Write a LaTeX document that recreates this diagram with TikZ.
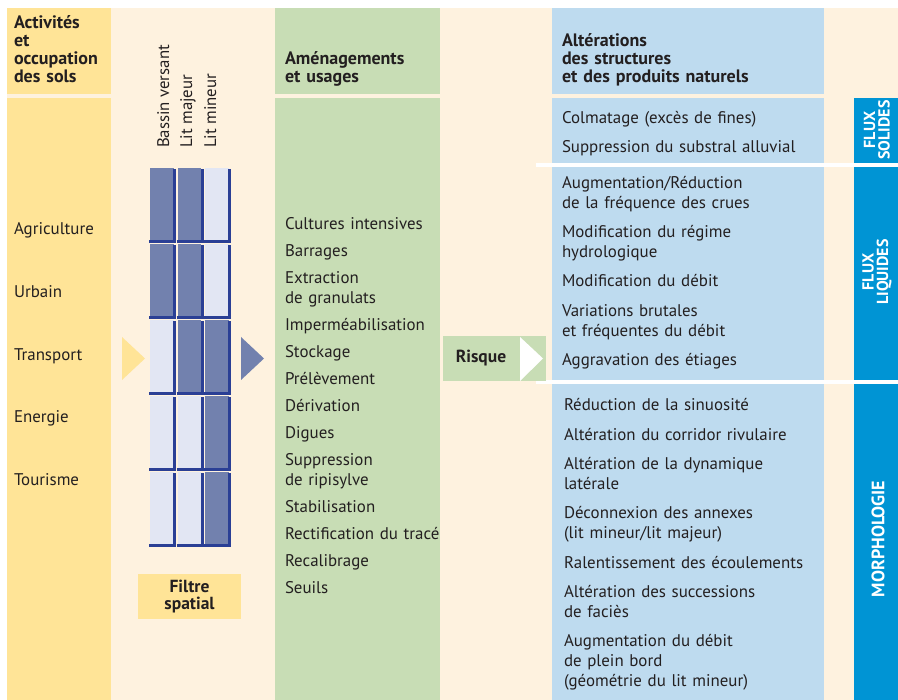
\documentclass[tikz,border=0pt]{standalone}
\usepackage{fontspec}
\setmainfont{PT Sans}
\usetikzlibrary{positioning}

\definecolor{sable}{HTML}{FEF2DF}
\definecolor{jaune}{HTML}{FFE497}
\definecolor{vert}{HTML}{C8DDB5}
\definecolor{bleuclair}{HTML}{BEDBEF}
\definecolor{bleuvif}{HTML}{0094D4}
\definecolor{cellfonce}{HTML}{7281AE}
\definecolor{cellclair}{HTML}{E2E6F3}
\definecolor{ombre}{HTML}{2A3F95}
\definecolor{encre}{HTML}{231F20}

\begin{document}
\begin{tikzpicture}[x=1pt, y=-1pt, every node/.style={text=encre, inner sep=0pt, outer sep=0pt}]
      \tikzstyle{titre} = [anchor=base west, text width=250pt, align=left, font=\fontsize{18}{18}\selectfont\bfseries]
      \tikzstyle{liste} = [anchor=base west, text width=270pt, align=left, font=\fontsize{16.9}{20}\selectfont]
      \tikzstyle{vertical} = [anchor=base west, rotate=90, font=\fontsize{16.8}{20}\selectfont]
      \tikzstyle{cellule} = [anchor=north west, minimum width=23.5pt, minimum height=72pt]
      \tikzstyle{ombrage} = [draw=ombre, line width=2.8pt]
      \tikzstyle{cartouche} = [minimum width=103pt, minimum height=45pt, align=center, font=\fontsize{17.5}{17.5}\selectfont\bfseries]
      \tikzstyle{onglet} = [rotate=90, align=center, text=white, font=\fontsize{16}{14.5}\selectfont\bfseries]

      \useasboundingbox (0,0) rectangle (898,700);

      % fonds des colonnes
      \fill[white] (0,0) rectangle (898,700);
      \fill[sable] (7,8) rectangle (898,700);
      \fill[jaune] (7,8) rectangle (111,94);
      \fill[jaune] (7,98) rectangle (111,700);
      \fill[vert] (275,8) rectangle (440,94);
      \fill[vert] (275,98) rectangle (440,700);
      \fill[bleuclair] (552,8) rectangle (824,94);
      \fill[bleuclair] (552,98) rectangle (824,700);
      \fill[bleuvif] (854,98) rectangle (898,700);
      \fill[white] (536,163) rectangle (898,167);
      \fill[white] (536,380.5) rectangle (898,384.5);

      % titres
      \node (activites) [titre] at (14,29) {Activités\\et\\occupation\\des sols};
      \node (amenagements) [titre] at (285,65) {Aménagements\\et usages};
      \node (alterations) [titre] at (562,47) {Altérations\\des structures\\et des produits naturels};

      \node (bassin) [vertical] at (169,148) {Bassin versant};
      \node (litmajeur) [vertical] at (192,148) {Lit majeur};
      \node (litmineur) [vertical] at (216,148) {Lit mineur};

      % activites
      \node (agriculture) [liste] at (14,235) {Agriculture};
      \node (urbain) [liste] at (14,298) {Urbain};
      \node (transport) [liste] at (14,360.5) {Transport};
      \node (energie) [liste] at (14,423) {Energie};
      \node (tourisme) [liste] at (14,486) {Tourisme};

      % filtre spatial
      \foreach \r/\a/\b/\c in {0/1/1/0, 1/1/1/0, 2/0/1/1, 3/0/0/1, 4/0/0/1}{
        \foreach \k/\v in {0/\a, 1/\b, 2/\c}{
          \ifnum\v=1 \def\teinte{cellfonce}\else\def\teinte{cellclair}\fi
          \node (c\r\k) [cellule, fill=\teinte] at (150+27.5*\k, 168+76*\r) {};
          \draw[ombrage] ([shift={(-1,1.3)}]c\r\k.south west) -- ([shift={(1.3,1.3)}]c\r\k.south east) -- ([shift={(1.3,1.5)}]c\r\k.north east);
        }
      }

      \fill[jaune] (122,337) -- (145,358.5) -- (122,380) -- cycle;
      \fill[cellfonce] (241,337) -- (264,358.5) -- (241,380) -- cycle;

      \node (filtre) [cartouche, fill=jaune] at (189.5,596.5) {Filtre\\spatial};

      % amenagements
      \node (usages) [liste] at (285,229.3) {Cultures intensives\\[7pt]Barrages\\[7pt]Extraction\\de granulats\\[7pt]Imperméabilisation\\[7pt]Stockage\\[7pt]Prélèvement\\[7pt]Dérivation\\[7pt]Digues\\[7pt]Suppression\\de ripisylve\\[7pt]Stabilisation\\[7pt]Rectification du tracé\\[7pt]Recalibrage\\[7pt]Seuils};

      % risque
      \node (risque) [cartouche, fill=vert] at (494.5,358.5) {};
      \fill[white] ([xshift=-26pt,yshift=-1pt]risque.north east) -- ([xshift=-3pt]risque.east) -- ([xshift=-26pt]risque.south east) -- cycle;
      \node (risquetxt) [anchor=base, font=\fontsize{17.5}{18}\selectfont\bfseries] at (481,362.7) {Risque};

      % alterations
      \node (solides) [liste] at (562,123.3) {Colmatage (excès de fines)\\[9pt]Suppression du substral alluvial};
      \node (liquides) [liste] at (562,188.3) {Augmentation/Réduction\\de la fréquence des crues\\[9.3pt]Modification du régime\\hydrologique\\[9.3pt]Modification du débit\\[9.3pt]Variations brutales\\et fréquentes du débit\\[9.3pt]Aggravation des étiages};
      \node (morpho) [liste] at (564,411) {Réduction de la sinuosité\\[9.3pt]Altération du corridor rivulaire\\[9.3pt]Altération de la dynamique\\latérale\\[9.3pt]Déconnexion des annexes\\(lit mineur/lit majeur)\\[9.3pt]Ralentissement des écoulements\\[9.3pt]Altération des successions\\de faciès\\[9.3pt]Augmentation du débit\\de plein bord\\(géométrie du lit mineur)};

      % onglets
      \node (ongletsol) [onglet] at (877,130) {FLUX\\SOLIDES};
      \node (ongletliq) [onglet] at (877,272) {FLUX\\LIQUIDES};
      \node (ongletmorpho) [onglet, font=\fontsize{18}{14}\selectfont\bfseries] at (878,539) {MORPHOLOGIE};

    \end{tikzpicture}
\end{document}
